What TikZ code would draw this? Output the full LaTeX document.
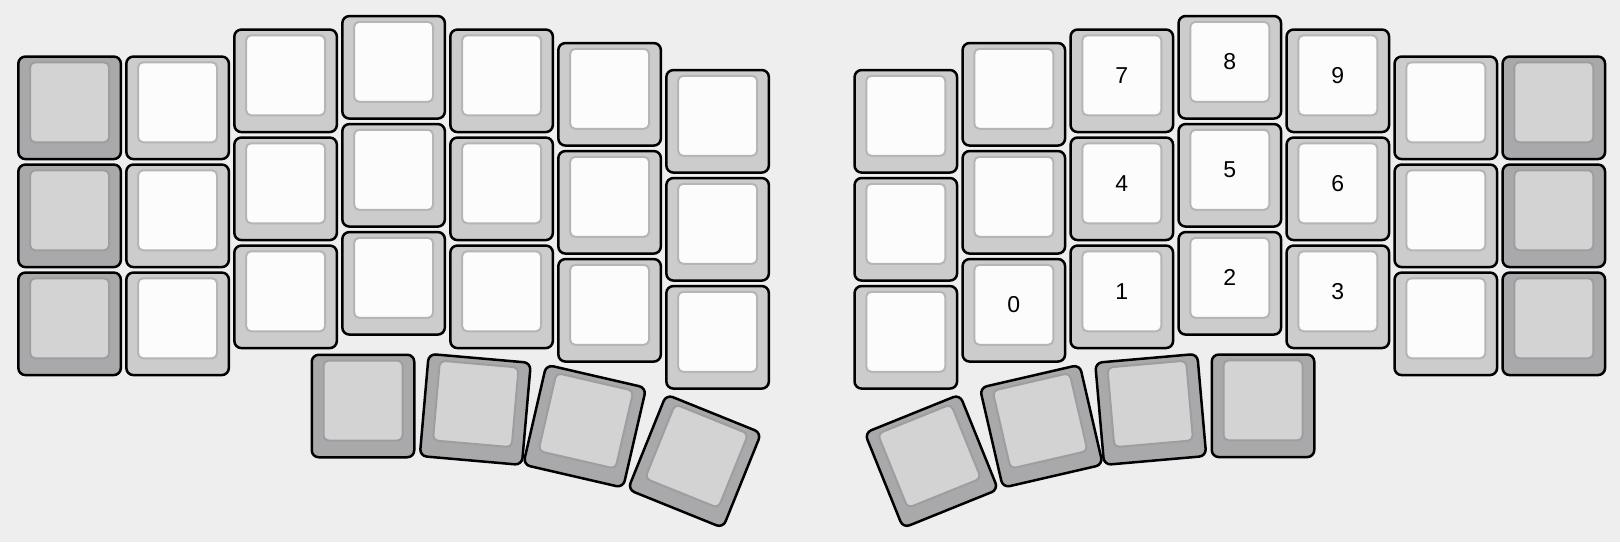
\documentclass[tikz,border=0pt]{standalone}
\usepackage{fontspec}
\setmainfont{Liberation Sans}
\definecolor{bgc}{HTML}{EEEEEE}
\definecolor{keyW}{HTML}{CCCCCC}
\definecolor{topW}{HTML}{FCFCFC}
\definecolor{rimW}{HTML}{B5B5B5}
\definecolor{keyG}{HTML}{A9A8AB}
\definecolor{topG}{HTML}{D3D3D3}
\definecolor{rimG}{HTML}{9E9E9E}
\tikzset{
  outerw/.style={draw=black, line width=1.25pt, fill=keyW, rounded corners=3.5pt,
    minimum width=51.25pt, minimum height=51.25pt, inner sep=0pt},
  outerg/.style={outerw, fill=keyG},
  innerw/.style={draw=rimW, line width=1pt, fill=topW, rounded corners=2.5pt,
    minimum width=39.5pt, minimum height=40pt, inner sep=0pt,
    font=\fontsize{11.5}{13}\selectfont},
  innerg/.style={innerw, draw=rimG, fill=topG},
}
\newcommand{\kbkey}[6]{%
  \begin{scope}[shift={(#2,#3)}, rotate=#4, transform shape]
    \node[outer#5] (#1) at (0,0) {};
    \node[inner#5] (#1t) at (0,-5.5) {#6};
  \end{scope}}
\begin{document}
\begin{tikzpicture}[x=0.5pt, y=-0.5pt]
\fill[bgc] (0,0) rectangle (1620,542);
\useasboundingbox (0,0) rectangle (1620,542);
% left half
\foreach \c/\x/\y/\s in {0/69.6/107.8/g, 1/177.6/107.8/w, 2/285.6/80.8/w,
    3/393.6/67.3/w, 4/501.6/80.8/w, 5/609.6/94.3/w, 6/717.6/121.3/w}
  \foreach \r in {0,1,2}
    {\kbkey{L\c\r}{\x}{\y+108*\r}{0}{\s}{}}
% right half
\foreach \c/\x/\y/\s/\la/\lb/\lc in {0/905.8/121.3/w/{}/{}/{},
    1/1013.8/94.3/w/{}/{}/0, 2/1121.8/80.8/w/7/4/1, 3/1229.8/67.3/w/8/5/2,
    4/1337.8/80.8/w/9/6/3, 5/1445.8/107.8/w/{}/{}/{}, 6/1553.8/107.8/g/{}/{}/{}}
  {\kbkey{R\c0}{\x}{\y}{0}{\s}{\la}
   \kbkey{R\c1}{\x}{\y+108}{0}{\s}{\lb}
   \kbkey{R\c2}{\x}{\y+216}{0}{\s}{\lc}}
% left thumb cluster
\kbkey{LT1}{363}{406}{0}{g}{}
\kbkey{LT2}{475.3}{409.4}{-5}{g}{}
\kbkey{LT3}{584.7}{426.2}{-13}{g}{}
\kbkey{LT4}{694.6}{461.2}{-22}{g}{}
% right thumb cluster
\kbkey{RT4}{931.4}{461.2}{22}{g}{}
\kbkey{RT3}{1041.3}{426.2}{13}{g}{}
\kbkey{RT2}{1150.7}{409.4}{5}{g}{}
\kbkey{RT1}{1263}{405.8}{0}{g}{}
\end{tikzpicture}
\end{document}
